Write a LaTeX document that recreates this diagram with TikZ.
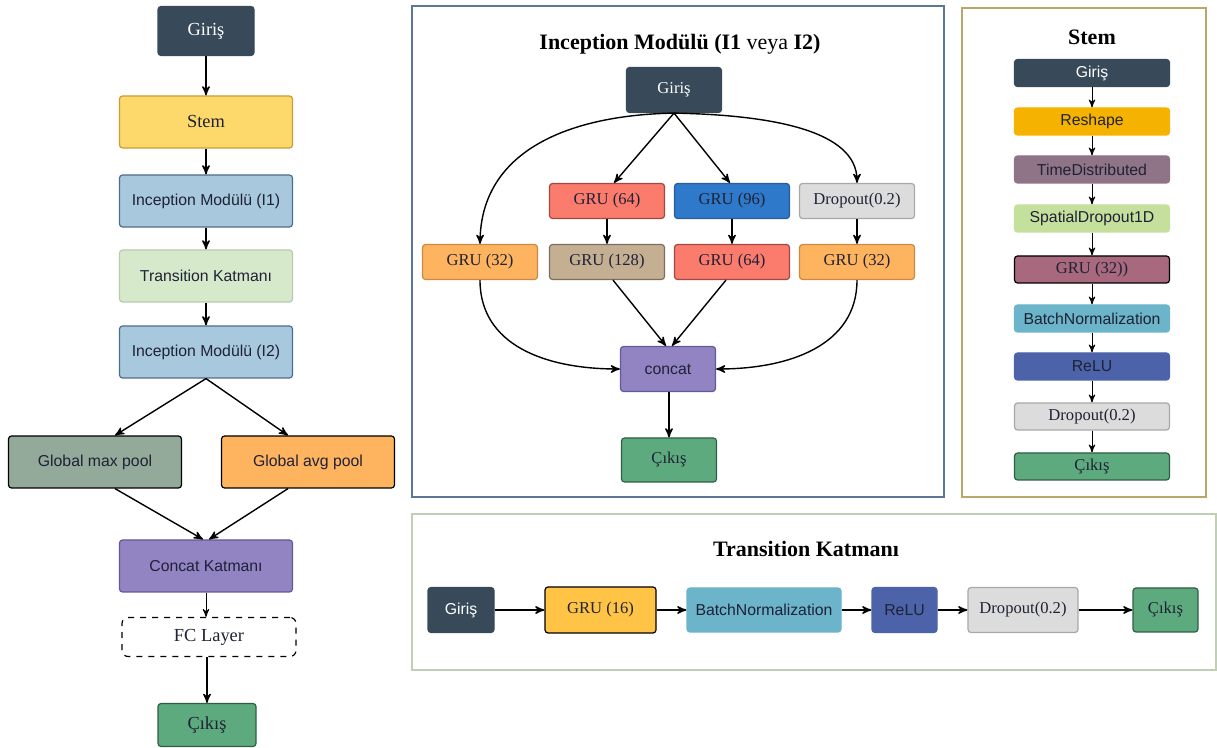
\documentclass[tikz,border=0pt]{standalone}
\usepackage{fontspec}
\setmainfont{Liberation Serif}
\setsansfont{Liberation Sans}
\usepackage{tikz}
\usetikzlibrary{calc}
\usetikzlibrary{arrows}

\definecolor{koyu}{HTML}{384A5A}
\definecolor{stemsari}{HTML}{FDD86A}
\definecolor{stemsarik}{HTML}{C79E36}
\definecolor{incmavi}{HTML}{A7C8DD}
\definecolor{incmavik}{HTML}{4F6C8C}
\definecolor{tryesil}{HTML}{D6EACB}
\definecolor{tryesilk}{HTML}{B7CBAF}
\definecolor{maxgri}{HTML}{93A999}
\definecolor{turuncu}{HTML}{FEB35F}
\definecolor{mor}{HTML}{9283C3}
\definecolor{mork}{HTML}{675797}
\definecolor{cikis}{HTML}{5DAA7F}
\definecolor{cikisk}{HTML}{2F5E43}
\definecolor{somon}{HTML}{FB7B6D}
\definecolor{somonk}{HTML}{9E4A40}
\definecolor{mavi}{HTML}{2E79C9}
\definecolor{mavik}{HTML}{2A5E9A}
\definecolor{gri}{HTML}{DCDCDC}
\definecolor{grik}{HTML}{A8A8A8}
\definecolor{turuncuk}{HTML}{C88A45}
\definecolor{ten}{HTML}{C4AF93}
\definecolor{tenk}{HTML}{7E6E5C}
\definecolor{amber}{HTML}{F5B300}
\definecolor{leylak}{HTML}{8F7487}
\definecolor{acikyesil}{HTML}{C5DF9C}
\definecolor{gul}{HTML}{A8687E}
\definecolor{camgobegi}{HTML}{6BB4C9}
\definecolor{relumavi}{HTML}{4C63AA}
\definecolor{sari}{HTML}{FFC445}
\definecolor{yazi}{HTML}{1F2235}
\definecolor{incframe}{HTML}{5A7896}
\definecolor{stemframe}{HTML}{B8A86C}
\definecolor{trframe}{HTML}{BFD0B5}

\tikzset{
  blok/.style={draw, rounded corners=1.5pt, line width=0.6pt, inner sep=0pt, align=center, text=yazi},
  renk/.style 2 args={fill=#1, draw=#2},
  koyukutu/.style={renk={koyu}{koyu}, text=white},
  sansy/.style={font=\sffamily\fontsize{7.9}{9}\selectfont},
  serify/.style={font=\fontsize{8.3}{10}\selectfont},
  serifb/.style={font=\fontsize{9.2}{11}\selectfont},
  baslik/.style={font=\bfseries\fontsize{11}{13}\selectfont},
  solkutu/.style={minimum width=86.5pt, minimum height=26pt},
  inckutu/.style={minimum width=57.5pt, minimum height=17.5pt},
  stemkutu/.style={minimum width=77.5pt, minimum height=13.5pt},
  ok/.style={->, >=stealth', line width=0.7pt},
  kucukok/.style={->, >=stealth', line width=0.5pt},
}

\begin{document}
\begin{tikzpicture}[x=0.5pt, y=-0.5pt]
    \useasboundingbox (0,0) rectangle (1217,748);
    % left column
    \node[blok, koyukutu, serifb, minimum width=48pt, minimum height=24.5pt] (giris) at (206,31) {Giriş};
    \node[blok, renk={stemsari}{stemsarik}, serifb, solkutu] (stem) at (206,122) {Stem};
    \node[blok, renk={incmavi}{incmavik}, sansy, solkutu] (inc1) at (206,201) {Inception Modülü (I1)};
    \node[blok, renk={tryesil}{tryesilk}, sansy, solkutu] (trans) at (206,276) {Transition Katmanı};
    \node[blok, renk={incmavi}{incmavik}, sansy, solkutu] (inc2) at (206,352) {Inception Modülü (I2)};
    \node[blok, renk={maxgri}{black}, sansy, solkutu] (gmax) at (95,462) {Global max pool};
    \node[blok, renk={turuncu}{black}, sansy, solkutu] (gavg) at (308,462) {Global avg pool};
    \node[blok, renk={mor}{mork}, sansy, solkutu] (concat) at (206,566) {Concat Katmanı};
    \node[blok, dashed, rounded corners=3pt, renk={white}{black}, serifb, minimum width=87pt, minimum height=19.5pt] (fc) at (209,637) {FC Layer};
    \node[blok, renk={cikis}{cikisk}, serifb, minimum width=49pt, minimum height=21.5pt] (cikis) at (207,725) {Çıkış};

    \draw[ok] (giris) -- (stem);
    \draw[ok] (stem) -- (inc1);
    \draw[ok] (inc1) -- (trans);
    \draw[ok] (trans) -- (inc2);
    \draw[ok] (inc2.south) -- ($(gmax.north)+(20,0)$);
    \draw[ok] (inc2.south) -- ($(gavg.north)+(-20,0)$);
    \draw[ok] ($(gmax.south)+(20,0)$) -- ($(concat.north)+(-3,0)$);
    \draw[ok] ($(gavg.south)+(-20,0)$) -- ($(concat.north)+(3,0)$);
    \draw[kucukok] (concat.south) -- (concat.south |- fc.north);
    \draw[ok] (fc.south -| cikis.north) -- (cikis.north);

    % inception module
    \draw[incframe, line width=0.8pt] (412,6) rectangle (944,497);
    \node[baslik] (inctitle) at (680,44) {Inception Modülü (I1 \textmd{veya} I2)};
    \node[blok, koyukutu, serify, minimum width=47.5pt, minimum height=22.5pt] (gi) at (674,90) {Giriş};
    \node[blok, renk={somon}{somonk}, serify, inckutu] (g64) at (607,201) {GRU (64)};
    \node[blok, renk={mavi}{mavik}, serify, inckutu] (g96) at (732,201) {GRU (96)};
    \node[blok, renk={gri}{grik}, serify, inckutu] (drop) at (857,201) {Dropout(0.2)};
    \node[blok, renk={turuncu}{turuncuk}, serify, inckutu] (g32a) at (480,262) {GRU (32)};
    \node[blok, renk={ten}{tenk}, serify, inckutu] (g128) at (607,262) {GRU (128)};
    \node[blok, renk={somon}{somonk}, serify, inckutu] (g64b) at (732,262) {GRU (64)};
    \node[blok, renk={turuncu}{turuncuk}, serify, inckutu] (g32b) at (857,262) {GRU (32)};
    \node[blok, renk={mor}{mork}, sansy, minimum width=47.5pt, minimum height=22.5pt] (ic) at (668,369) {concat};
    \node[blok, renk={cikis}{cikisk}, serify, minimum width=47.5pt, minimum height=22pt] (ico) at (669,460) {Çıkış};

    \draw[ok] (gi.south) .. controls (570,115) and (481,150) .. (g32a.north);
    \draw[ok] (gi.south) -- ($(g64.north)+(7,0)$);
    \draw[ok] (gi.south) -- ($(g96.north)+(-2,0)$);
    \draw[ok] (gi.south) .. controls (770,115) and (857,130) .. (drop.north);
    \draw[ok] (g64) -- (g128);
    \draw[ok] (g96) -- (g64b);
    \draw[ok] (drop) -- (g32b);
    \draw[ok] (g32a.south) .. controls (480,345) and (545,369) .. (ic.west);
    \draw[ok] ($(g128.south)+(6,0)$) -- ($(ic.north)+(-2,0)$);
    \draw[ok] ($(g64b.south)+(-6,0)$) -- ($(ic.north)+(4,0)$);
    \draw[ok] (g32b.south) .. controls (857,345) and (790,369) .. (ic.east);
    \draw[ok] (ic.south -| ico.north) -- (ico.north);

    % stem
    \draw[stemframe, line width=0.8pt] (962,8) rectangle (1206,497);
    \node[baslik] (stemtitle) at (1092,37) {Stem};
    \node[blok, koyukutu, sansy, stemkutu] (s1) at (1092,73) {Giriş};
    \node[blok, renk={amber}{amber}, sansy, stemkutu] (s2) at (1092,121.5) {Reshape};
    \node[blok, renk={leylak}{leylak}, sansy, stemkutu] (s3) at (1092,169.5) {TimeDistributed};
    \node[blok, renk={acikyesil}{acikyesil}, sansy, stemkutu] (s4) at (1092,218.5) {SpatialDropout1D};
    \node[blok, renk={gul}{black}, serify, stemkutu] (s5) at (1092,269.5) {GRU (32))};
    \node[blok, renk={camgobegi}{camgobegi}, sansy, stemkutu] (s6) at (1092,318.5) {BatchNormalization};
    \node[blok, renk={relumavi}{relumavi}, sansy, stemkutu] (s7) at (1092,366.5) {ReLU};
    \node[blok, renk={gri}{grik}, serify, stemkutu] (s8) at (1092,416.5) {Dropout(0.2)};
    \node[blok, renk={cikis}{cikisk}, serify, stemkutu] (s9) at (1092,466.5) {Çıkış};
    \foreach \a/\b in {s1/s2, s2/s3, s3/s4, s4/s5, s5/s6, s6/s7, s7/s8, s8/s9} {
      \draw[kucukok] (\a) -- (\b);
    }

    % transition layer
    \draw[trframe, line width=0.8pt] (412,514) rectangle (1216,670);
    \node[baslik] (trtitle) at (806,549) {Transition Katmanı};
    \node[blok, koyukutu, sansy, minimum width=33pt, minimum height=22.5pt] (t1) at (461,610) {Giriş};
    \node[blok, renk={sari}{black}, serify, minimum width=55.5pt, minimum height=23pt] (t2) at (600.5,610) {GRU (16)};
    \node[blok, renk={camgobegi}{camgobegi}, sansy, minimum width=77pt, minimum height=22pt] (t3) at (764,610) {BatchNormalization};
    \node[blok, renk={relumavi}{relumavi}, sansy, minimum width=32.5pt, minimum height=22.5pt] (t4) at (904.5,610) {ReLU};
    \node[blok, renk={gri}{grik}, serify, minimum width=55pt, minimum height=22.5pt] (t5) at (1023,610) {Dropout(0.2)};
    \node[blok, renk={cikis}{cikisk}, serify, minimum width=32.5pt, minimum height=22pt] (t6) at (1165.5,610) {Çıkış};
    \foreach \a/\b in {t1/t2, t2/t3, t3/t4, t4/t5, t5/t6} {
      \draw[ok] (\a) -- (\b);
    }
\end{tikzpicture}
\end{document}
